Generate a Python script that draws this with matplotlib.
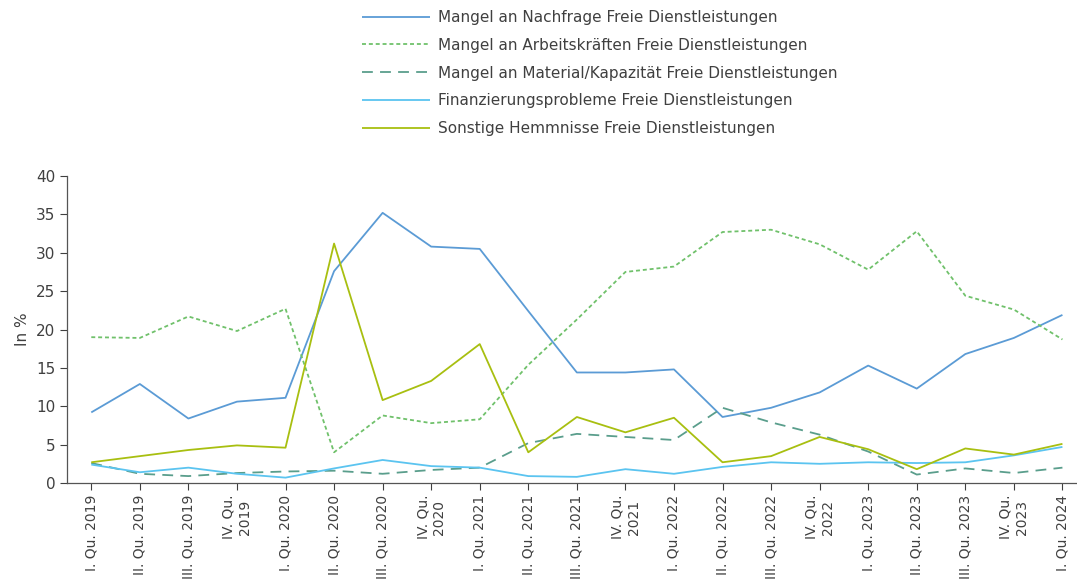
import matplotlib
matplotlib.use('Agg')
import matplotlib.pyplot as plt

plt.rcParams['font.family'] = ['DejaVu Sans']

quarters = ['I. Qu. 2019', 'II. Qu. 2019', 'III. Qu. 2019', 'IV. Qu.\n2019',
            'I. Qu. 2020', 'II. Qu. 2020', 'III. Qu. 2020', 'IV. Qu.\n2020',
            'I. Qu. 2021', 'II. Qu. 2021', 'III. Qu. 2021', 'IV. Qu.\n2021',
            'I. Qu. 2022', 'II. Qu. 2022', 'III. Qu. 2022', 'IV. Qu.\n2022',
            'I. Qu. 2023', 'II. Qu. 2023', 'III. Qu. 2023', 'IV. Qu.\n2023',
            'I. Qu. 2024']

nachfrage = [9.2, 12.9, 8.4, 10.6, 11.1, 27.6, 35.2, 30.8, 30.5, 22.4, 14.4,
             14.4, 14.8, 8.6, 9.8, 11.8, 15.3, 12.3, 16.8, 18.9, 21.9]
arbeitskraefte = [19.0, 18.9, 21.7, 19.8, 22.7, 4.0, 8.8, 7.8, 8.3, 15.4, 21.3,
                  27.5, 28.2, 32.7, 33.0, 31.1, 27.8, 32.8, 24.4, 22.6, 18.7]
material = [2.6, 1.2, 0.9, 1.3, 1.5, 1.6, 1.2, 1.7, 2.0, 5.2, 6.4,
            6.0, 5.6, 9.8, 7.9, 6.3, 4.1, 1.1, 1.9, 1.3, 2.0]
finanzierung = [2.4, 1.4, 2.0, 1.2, 0.7, 1.9, 3.0, 2.2, 2.0, 0.9, 0.8,
                1.8, 1.2, 2.1, 2.7, 2.5, 2.7, 2.6, 2.7, 3.6, 4.7]
sonstige = [2.7, 3.5, 4.3, 4.9, 4.6, 31.2, 10.8, 13.3, 18.1, 4.0, 8.6,
            6.6, 8.5, 2.7, 3.5, 6.0, 4.4, 1.8, 4.5, 3.7, 5.1]

series = [
    ('Mangel an Nachfrage Freie Dienstleistungen', nachfrage, '#5b9bd5', (0, ())),
    ('Mangel an Arbeitskräften Freie Dienstleistungen', arbeitskraefte, '#70c16b', (0, (2.2, 1.6))),
    ('Mangel an Material/Kapazität Freie Dienstleistungen', material, '#5a9e8c', (0, (6, 4))),
    ('Finanzierungsprobleme Freie Dienstleistungen', finanzierung, '#5bc4f0', (0, ())),
    ('Sonstige Hemmnisse Freie Dienstleistungen', sonstige, '#a8bf10', (0, ())),
]

text_color = '#404040'

fig = plt.figure(figsize=(10.77, 5.8), dpi=100)
ax = fig.add_axes([67 / 1077, (580 - 483) / 580, (1077 - 67) / 1077, (483 - 176) / 580])

x = list(range(len(quarters)))
for label, vals, color, ls in series:
    ax.plot(x, vals, color=color, linestyle=ls, linewidth=1.3, label=label)

ax.set_xlim(-0.5, 20.3)
ax.set_ylim(0, 40)
ax.set_yticks(range(0, 41, 5))
ax.set_xticks(x)
ax.set_xticklabels(quarters, rotation=90, ha='center', va='top',
                   multialignment='center', fontsize=10, color=text_color)
ax.tick_params(axis='y', labelsize=11, colors=text_color, length=5, width=0.8)
ax.tick_params(axis='x', length=5, width=0.8, colors=text_color)
ax.set_ylabel('In %', fontsize=11, color=text_color)

for side in ['top', 'right']:
    ax.spines[side].set_visible(False)
for side in ['left', 'bottom']:
    ax.spines[side].set_color('#555555')
    ax.spines[side].set_linewidth(0.9)

handles, labels = ax.get_legend_handles_labels()
leg = fig.legend(handles, labels, loc='upper left', bbox_to_anchor=(352 / 1077, 1.0),
                 frameon=False, fontsize=11, handlelength=4.45, handletextpad=0.5,
                 labelspacing=0.84, borderaxespad=0.25)
for t in leg.get_texts():
    t.set_color(text_color)

fig.savefig('out.png', dpi=100)
